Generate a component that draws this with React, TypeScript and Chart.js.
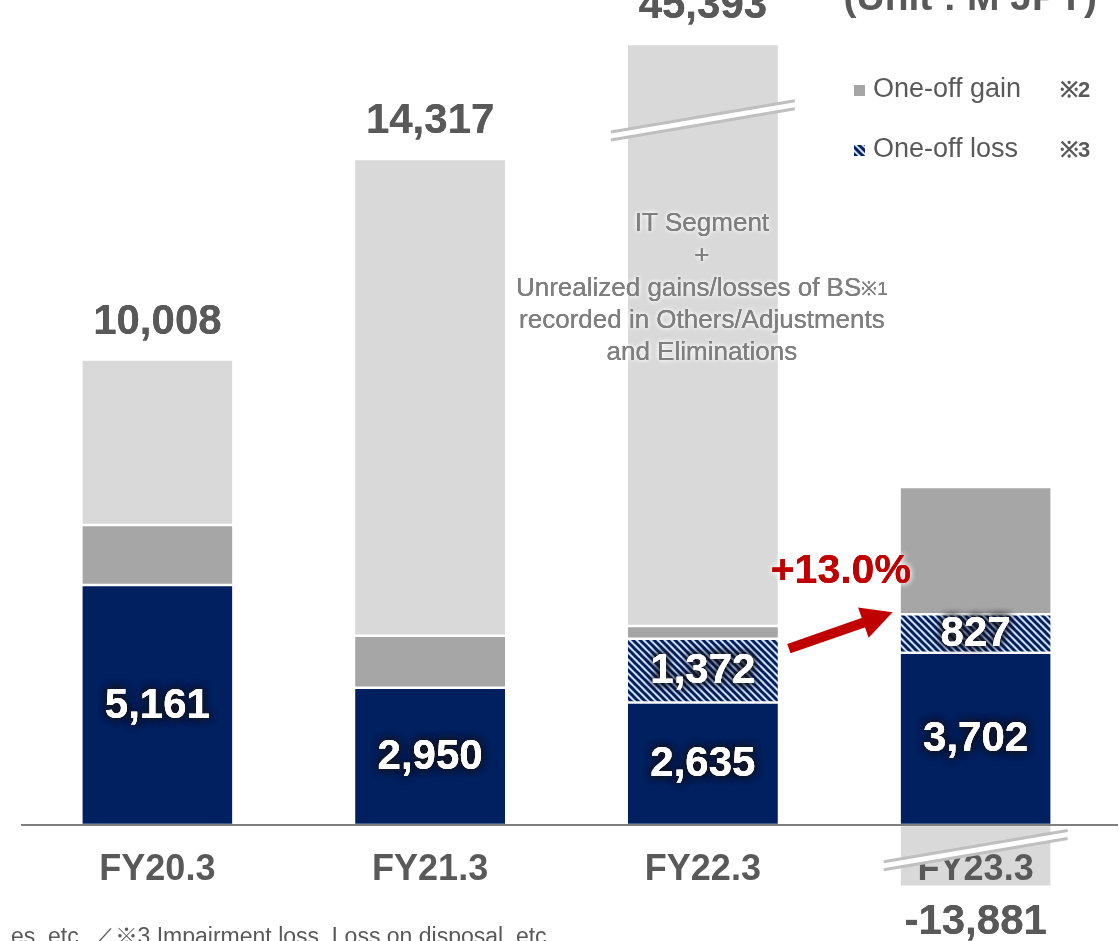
import React, { useEffect, useRef } from 'react';
import { Chart, registerables } from 'chart.js';

Chart.register(...registerables);

// ---------- data ----------
const categories = ['FY20.3', 'FY21.3', 'FY22.3', 'FY23.3'];
const coreProfit = [5161, 2950, 2635, 3702];
const oneOffLoss = [null, null, 1372, 827];
const oneOffGain = [1290, 1120, 270, 2740];
// IT Segment + unrealized gains/losses (FY22.3 and FY23.3 drawn on a broken axis)
const itSegmentShown = [3557, 10247, 12515, -1330];
const totalLabels = [10008, 14317, 45393, null];
const belowLabels = [null, null, null, -13881];
const axisBreakAt = [null, null, 15150, -540];
const growthLabel = '+13.0%';
const legendItems = ['One-off gain', 'One-off loss'];
const legendNotes = ['※2', '※3'];
const noteLines = ['IT Segment', '+', 'Unrealized gains/losses of BS', 'recorded in Others/Adjustments', 'and Eliminations'];
const noteMark = '※1';
const noteAnchorValue = 12920;
const unitLabel = '(Unit : M JPY)';
const footnote = 'es, etc. ／※3 Impairment loss, Loss on disposal, etc.';
const yMin = -2494;
const yMax = 17738;

// ---------- styles ----------
const FONT = '"Liberation Sans", Arial, Helvetica, sans-serif';
const NAVY = '#002060';
const GAIN = '#A6A6A6';
const LIGHT = '#D9D9D9';
const TEXT = '#595959';
const RED = '#C00000';

const fmt = (v: number) => v.toLocaleString('en-US');

function makeHatch(): CanvasPattern | string {
  const n = 7;
  const c = document.createElement('canvas');
  c.width = n;
  c.height = n;
  const g = c.getContext('2d');
  if (!g) return NAVY;
  g.fillStyle = '#D3E0F4';
  g.fillRect(0, 0, n, n);
  g.strokeStyle = NAVY;
  g.lineWidth = 3;
  for (const o of [-n, 0, n]) {
    g.beginPath();
    g.moveTo(o - 1, -1);
    g.lineTo(o + n + 1, n + 1);
    g.stroke();
  }
  const p = g.createPattern(c, 'repeat');
  return p || NAVY;
}

function glowText(ctx: CanvasRenderingContext2D, text: string, x: number, y: number, fill: string, glow: string, blur: number, passes: number) {
  ctx.save();
  ctx.fillStyle = fill;
  ctx.shadowColor = glow;
  ctx.shadowBlur = blur;
  for (let i = 0; i < passes; i++) ctx.fillText(text, x, y);
  ctx.shadowColor = 'rgba(0,0,0,0)';
  ctx.shadowBlur = 0;
  ctx.fillText(text, x, y);
  ctx.restore();
}

function drawBreak(ctx: CanvasRenderingContext2D, cx: number, cy: number, barW: number) {
  const hl = barW / 2 + 17;
  const s = 0.17;
  const g = 4;
  const l1a = [cx - hl, cy - g + hl * s];
  const l1b = [cx + hl, cy - g - hl * s];
  const l2a = [cx - hl, cy + g + hl * s];
  const l2b = [cx + hl, cy + g - hl * s];
  ctx.save();
  ctx.fillStyle = '#FFFFFF';
  ctx.beginPath();
  ctx.moveTo(l1a[0], l1a[1]);
  ctx.lineTo(l1b[0], l1b[1]);
  ctx.lineTo(l2b[0], l2b[1]);
  ctx.lineTo(l2a[0], l2a[1]);
  ctx.closePath();
  ctx.fill();
  ctx.strokeStyle = '#BFBFBF';
  ctx.lineWidth = 3;
  ctx.beginPath();
  ctx.moveTo(l1a[0], l1a[1]);
  ctx.lineTo(l1b[0], l1b[1]);
  ctx.moveTo(l2a[0], l2a[1]);
  ctx.lineTo(l2b[0], l2b[1]);
  ctx.stroke();
  ctx.restore();
}

function makeOverlay(hatch: CanvasPattern | string) {
  return {
    id: 'overlay',
    afterDatasetsDraw(chart: any) {
      const ctx: CanvasRenderingContext2D = chart.ctx;
      const { chartArea } = chart;
      const x = chart.scales.x;
      const y = chart.scales.y;
      const y0 = y.getPixelForValue(0);
      const metaCore = chart.getDatasetMeta(0);
      const metaLoss = chart.getDatasetMeta(1);
      const metaIT = chart.getDatasetMeta(3);
      const barW = metaCore.data[0].width;

      ctx.save();
      // zero axis line
      ctx.strokeStyle = '#7F7F7F';
      ctx.lineWidth = 2;
      ctx.beginPath();
      ctx.moveTo(chartArea.left, y0);
      ctx.lineTo(chartArea.right + 6, y0);
      ctx.stroke();

      // category labels
      ctx.font = `bold 36px ${FONT}`;
      ctx.textAlign = 'center';
      ctx.textBaseline = 'middle';
      ctx.fillStyle = TEXT;
      categories.forEach((c, i) => ctx.fillText(c, x.getPixelForValue(i), y0 + 45));

      // axis breaks
      axisBreakAt.forEach((v, i) => {
        if (v == null) return;
        drawBreak(ctx, x.getPixelForValue(i), y.getPixelForValue(v), barW);
      });

      // totals above / below
      ctx.font = `bold 42px ${FONT}`;
      ctx.textBaseline = 'alphabetic';
      totalLabels.forEach((v, i) => {
        if (v == null) return;
        const el = metaIT.data[i];
        glowText(ctx, fmt(v), x.getPixelForValue(i), el.y - 26, TEXT, 'rgba(255,255,255,0.9)', 4, 1);
      });
      ctx.textBaseline = 'middle';
      belowLabels.forEach((v, i) => {
        if (v == null) return;
        const el = metaIT.data[i];
        glowText(ctx, fmt(v), x.getPixelForValue(i), el.y + 36, TEXT, 'rgba(255,255,255,0.9)', 4, 1);
      });

      // values inside bars
      ctx.font = `bold 42px ${FONT}`;
      ctx.textBaseline = 'middle';
      [metaCore, metaLoss].forEach((meta, k) => {
        const vals = k === 0 ? coreProfit : oneOffLoss;
        vals.forEach((v, i) => {
          if (v == null) return;
          const el = meta.data[i];
          const cy = (el.y + el.base) / 2 + 1;
          glowText(ctx, fmt(v), el.x, cy, '#FFFFFF', 'rgba(20,20,30,0.9)', 8, 3);
        });
      });

      // note text over FY22.3 bar
      const nx = x.getPixelForValue(2) - 1;
      const ny = y.getPixelForValue(noteAnchorValue);
      ctx.font = `26px ${FONT}`;
      ctx.textAlign = 'center';
      ctx.textBaseline = 'middle';
      noteLines.forEach((t, i) => {
        const ly = ny + i * 32.2;
        if (i === 2) {
          ctx.font = `26px ${FONT}`;
          const w1 = ctx.measureText(t).width;
          ctx.font = `19px ${FONT}`;
          const w2 = ctx.measureText(noteMark).width;
          const left = nx - (w1 + w2) / 2;
          ctx.textAlign = 'left';
          ctx.font = `26px ${FONT}`;
          glowText(ctx, t, left, ly, '#7F7F7F', 'rgba(255,255,255,1)', 5, 2);
          ctx.font = `19px ${FONT}`;
          glowText(ctx, noteMark, left + w1, ly + 1, '#7F7F7F', 'rgba(255,255,255,1)', 5, 2);
          ctx.textAlign = 'center';
          ctx.font = `26px ${FONT}`;
        } else {
          glowText(ctx, t, nx, ly, '#7F7F7F', 'rgba(255,255,255,1)', 5, 2);
        }
      });

      // growth arrow
      const sx = x.getPixelForValue(2) + barW / 2 + 11;
      const sy = y.getPixelForValue((coreProfit[2] as number) + (oneOffLoss[2] as number)) + 10;
      const ex = x.getPixelForValue(3) - barW / 2 - 8;
      const ey = y.getPixelForValue((coreProfit[3] as number) + (oneOffLoss[3] as number)) - 2;
      const ang = Math.atan2(ey - sy, ex - sx);
      const headL = 31;
      const headW = 16;
      const bx = ex - headL * Math.cos(ang);
      const by = ey - headL * Math.sin(ang);
      ctx.strokeStyle = RED;
      ctx.fillStyle = RED;
      ctx.lineWidth = 10;
      ctx.lineCap = 'butt';
      ctx.beginPath();
      ctx.moveTo(sx, sy);
      ctx.lineTo(bx + 2 * Math.cos(ang), by + 2 * Math.sin(ang));
      ctx.stroke();
      ctx.beginPath();
      ctx.moveTo(ex, ey);
      ctx.lineTo(bx + headW * Math.sin(ang), by - headW * Math.cos(ang));
      ctx.lineTo(bx - headW * Math.sin(ang), by + headW * Math.cos(ang));
      ctx.closePath();
      ctx.fill();

      ctx.font = `bold 41px ${FONT}`;
      ctx.textAlign = 'center';
      ctx.textBaseline = 'middle';
      glowText(ctx, growthLabel, (sx + ex) / 2, ey - 41, RED, 'rgba(255,255,255,1)', 6, 2);

      // unit label
      const W = chart.width;
      ctx.font = `bold 39px ${FONT}`;
      ctx.textAlign = 'right';
      ctx.textBaseline = 'alphabetic';
      ctx.fillStyle = TEXT;
      ctx.fillText(unitLabel, W - 22, 10);

      // legend
      const legendFills = [GAIN, hatch];
      legendItems.forEach((t, i) => {
        const ly = 90 + i * 60;
        ctx.fillStyle = legendFills[i] as any;
        ctx.fillRect(W - 265, ly - 5, 11, 11);
        ctx.font = `27px ${FONT}`;
        ctx.textAlign = 'left';
        ctx.textBaseline = 'middle';
        ctx.fillStyle = TEXT;
        ctx.fillText(t, W - 246, ly);
        ctx.font = `bold 22px ${FONT}`;
        ctx.fillText(legendNotes[i], W - 59, ly + 1);
      });

      // footnote (cut at the edge)
      ctx.font = `23px ${FONT}`;
      ctx.textAlign = 'right';
      ctx.textBaseline = 'alphabetic';
      ctx.fillStyle = TEXT;
      ctx.fillText(footnote, 553, 944);

      ctx.restore();
    },
  };
}

export default function App() {
  const canvasRef = useRef<HTMLCanvasElement | null>(null);

  useEffect(() => {
    const canvas = canvasRef.current;
    if (!canvas) return;
    const hatch = makeHatch();
    const border = { top: 1.25, bottom: 1.25, left: 0, right: 0 };
    const common = {
      borderColor: '#FFFFFF',
      borderWidth: border,
      borderSkipped: false,
      barPercentage: 0.55,
      categoryPercentage: 1,
      stack: 's',
    };
    const chart = new Chart(canvas, {
      type: 'bar',
      data: {
        labels: categories,
        datasets: [
          { label: 'Core', data: coreProfit, backgroundColor: NAVY, ...common },
          { label: 'One-off loss', data: oneOffLoss, backgroundColor: hatch as any, ...common },
          { label: 'One-off gain', data: oneOffGain, backgroundColor: GAIN, ...common },
          { label: 'IT Segment', data: itSegmentShown, backgroundColor: LIGHT, ...common },
        ] as any,
      },
      options: {
        animation: false,
        responsive: true,
        maintainAspectRatio: false,
        layout: { padding: { left: 21, right: 7, top: 0, bottom: 0 } },
        plugins: { legend: { display: false }, tooltip: { enabled: false } },
        scales: {
          x: { display: false, stacked: true },
          y: { display: false, stacked: true, min: yMin, max: yMax },
        },
      },
      plugins: [makeOverlay(hatch)],
    });
    return () => chart.destroy();
  }, []);

  return (
    <div style={{ position: 'fixed', left: 0, top: 0, width: 1119, height: 941, background: '#FFFFFF' }}>
      <canvas ref={canvasRef} />
    </div>
  );
}
